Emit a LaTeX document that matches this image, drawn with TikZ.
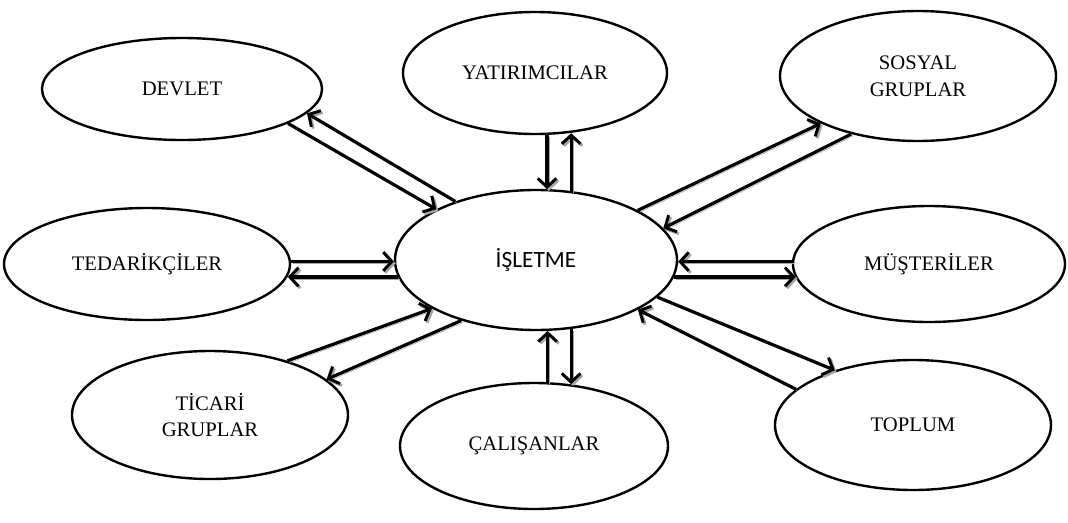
\documentclass[tikz,border=0pt]{standalone}
\usepackage{fontspec}
\setmainfont{Liberation Serif}
\newfontfamily\calfont{Carlito}
\usetikzlibrary{shapes.geometric,arrows.meta}
\begin{document}
\begin{tikzpicture}[x=0.75pt,y=-0.75pt,
  ell/.style n args={2}{ellipse, draw=black, line width=1.8pt, fill=white,
     minimum width=#1*0.75pt, minimum height=#2*0.75pt, inner sep=0pt,
     align=center, font=\fontsize{15.5}{20}\selectfont},
  conn/.style={line width=2.4pt, -{Straight Barb[length=6.5pt,width=14pt,line width=2.2pt]},
     preaction={draw=black!35, transform canvas={shift={(1.4pt,-1.4pt)}}}}]
\useasboundingbox (0,0) rectangle (1068,522);
\node[ell={280}{102}] (dev) at (182,89) {DEVLET};
\node[ell={264}{122}] (yat) at (535,73) {YATIRIMCILAR};
\node[ell={276}{130}] (sos) at (918,76) {SOSYAL\\GRUPLAR};
\node[ell={286}{112}] (ted) at (147,264) {TEDARİKÇİLER};
\node[ell={282}{140}, font=\calfont\fontsize{17.5}{20}\selectfont] (isl) at (536,260) {İŞLETME};
\node[ell={272}{116}] (mus) at (929,264) {MÜŞTERİLER};
\node[ell={276}{128}] (tic) at (210,415) {TİCARİ\\GRUPLAR};
\node[ell={268}{126}] (cal) at (534,446) {ÇALIŞANLAR};
\node[ell={276}{130}] (top) at (913,425) {TOPLUM};
% DEVLET
\draw[conn] (dev.-18) -- (isl.153);
\draw[conn] (isl.144) -- (dev.-11);
% YATIRIMCILAR
\draw[conn] (yat.-79) -- (yat.-79 |- isl.81);
\draw[conn] (isl.63) -- (isl.63 |- yat.-61);
% SOSYAL
\draw[conn] (isl.26) -- (sos.206);
\draw[conn] (sos.221) -- (isl.14);
% TEDARIKCILER
\draw[conn] (ted.1) -- (ted.1 -| isl.181);
\draw[conn] (isl.187) -- (isl.187 -| ted.-5);
% MUSTERILER
\draw[conn] (mus.179) -- (mus.179 -| isl.-1);
\draw[conn] (isl.-7) -- (isl.-7 -| mus.186);
% TICARI
\draw[conn] (tic.35) -- (isl.205);
\draw[conn] (isl.219) -- (tic.17);
% CALISANLAR
\draw[conn] (cal.78) -- (cal.78 |- isl.-81);
\draw[conn] (isl.-63) -- (isl.-63 |- cal.60);
% TOPLUM
\draw[conn] (isl.-17) -- (top.145);
\draw[conn] (top.163) -- (isl.-26);
\end{tikzpicture}
\end{document}
